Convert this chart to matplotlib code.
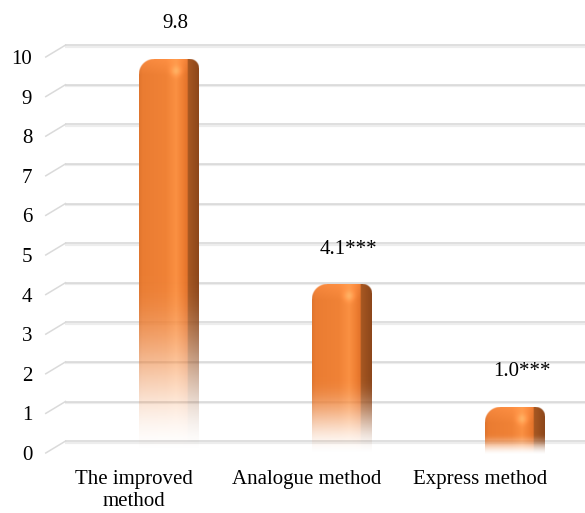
import numpy as np
import matplotlib
matplotlib.use("Agg")
import matplotlib.pyplot as plt

plt.rcParams['font.family'] = ['Liberation Serif', 'DejaVu Serif']

categories = ["The improved\nmethod", "Analogue method", "Express method"]
values = [9.8, 4.1, 1.0]
value_labels = ["9.8", "4.1***", "1.0***"]
yticks = list(range(0, 11))

fig = plt.figure(figsize=(5.85, 5.13), dpi=100)
ax = fig.add_axes([0.0812, 0.1170, 0.8872, 0.7719])
ax.set_xlim(-0.5, 2.5)
ax.set_ylim(0, 10)
for s in ax.spines.values():
    s.set_visible(False)

# perspective offsets of the back wall (data units)
back_dx, back_dy = 0.104, 0.30
x_end = 2.62

for v in yticks:
    ax.plot([-0.5 + back_dx, x_end], [v + back_dy - 0.04] * 2, color='#ededed', lw=1.6,
            clip_on=False, zorder=1, solid_capstyle='butt')
    ax.plot([-0.5 + back_dx, x_end], [v + back_dy] * 2, color='#d6d6d6', lw=1.1,
            clip_on=False, zorder=1.1, solid_capstyle='butt')
    ax.plot([-0.51, -0.5 + back_dx], [v, v + back_dy], color='#dadada', lw=1.1,
            clip_on=False, zorder=1.1)

ax.set_yticks(yticks)
ax.set_yticklabels([str(t) for t in yticks], fontsize=15)
ax.set_xticks(range(len(categories)))
ax.set_xticklabels(categories, fontsize=15, linespacing=1.22)
ax.tick_params(axis='y', length=0, pad=11)
ax.tick_params(axis='x', length=0, pad=12)

fig.canvas.draw()

# bar colours
front_cols = np.array([
    [0.00, 222, 116, 46],
    [0.06, 234, 124, 50],
    [0.45, 240, 130, 54],
    [0.62, 250, 144, 66],
    [0.74, 238, 126, 50],
    [0.81, 226, 114, 42],
    [0.815, 168, 88, 34],
    [1.00, 140, 70, 26],
])

def column_colors(u):
    return np.stack([np.interp(u, front_cols[:, 0], front_cols[:, k]) for k in (1, 2, 3)], -1) / 255.0

for i, v in enumerate(values):
    x0 = i + 0.03
    x1 = i + 0.375
    y0 = -0.05
    y1 = v + 0.15
    p0 = ax.transData.transform((x0, y0))
    p1 = ax.transData.transform((x1, y1))
    scale = 3
    W = int(round((p1[0] - p0[0]) * scale))
    H = int(round((p1[1] - p0[1]) * scale))
    px = (np.arange(W) + 0.5) / scale
    py = (np.arange(H) + 0.5) / scale
    PX, PY = np.meshgrid(px, py)
    w_px = W / scale
    h_px = H / scale
    u = PX / w_px
    rgb = column_colors(u)
    # top cap a bit lighter with highlight
    cap = np.clip(1 - PY / 16.0, 0, 1)[..., None]
    front = (u < 0.81)[..., None]
    rgb = rgb + front * cap * 0.05
    hl = np.exp(-(((PX - 0.62 * w_px) / 5.0) ** 2 + ((PY - 12) / 5.0) ** 2))[..., None]
    rgb = np.clip(rgb + hl * 0.12, 0, 1)
    # vertical fade to white (smooth)
    t = PY / h_px
    s = np.clip((1 - t) / 0.45, 0, 1)
    alpha = s * s * (3 - 2 * s)
    # rounded top corners
    r1, r2 = 15.0, 9.0
    d1 = np.hypot(PX - r1, PY - r1)
    m1 = np.where((PX < r1) & (PY < r1), np.clip(r1 - d1 + 0.5, 0, 1), 1.0)
    d2 = np.hypot(PX - (w_px - r2), PY - r2)
    m2 = np.where((PX > w_px - r2) & (PY < r2), np.clip(r2 - d2 + 0.5, 0, 1), 1.0)
    alpha = alpha * m1 * m2
    img = np.dstack([rgb, alpha])
    ax.imshow(img, extent=(x0, x1, y0, y1), origin='upper', aspect='auto',
              interpolation='bilinear', zorder=3, clip_on=False)
    ax.text(i + 0.24, v + 1.05, value_labels[i], ha='center', va='center',
            fontsize=15, zorder=4)

ax.set_xlim(-0.5, 2.5)
ax.set_ylim(0, 10)
fig.savefig('out.png', dpi=100)
